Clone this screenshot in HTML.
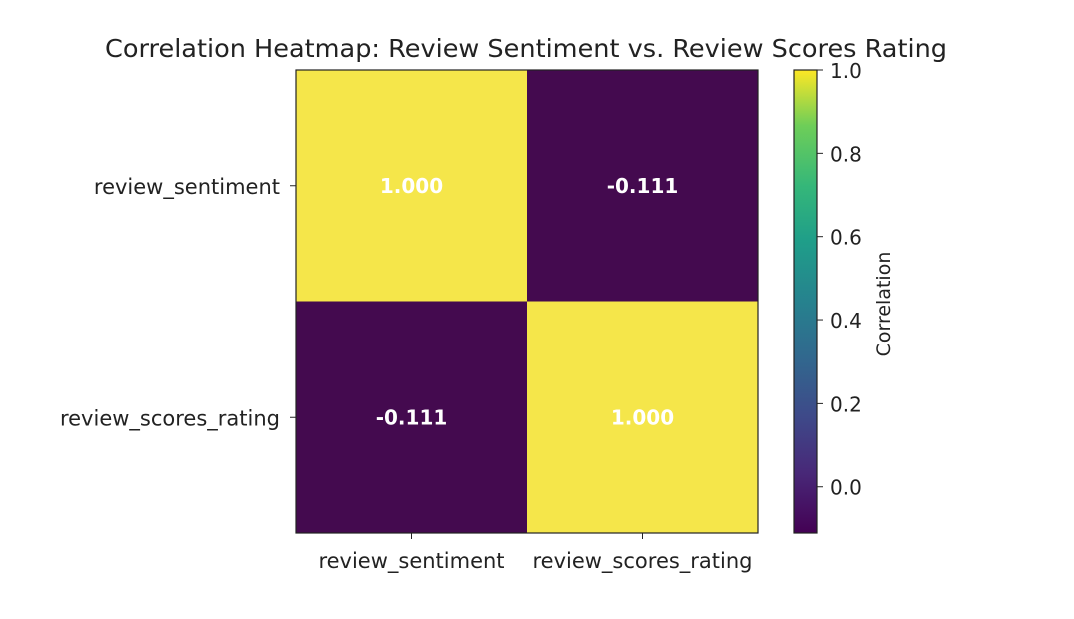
<!DOCTYPE html>
<html><head><meta charset="utf-8"><style>
body{margin:0;background:#fff;width:1074px;height:614px;overflow:hidden}
svg{font-family:"DejaVu Sans","Liberation Sans",sans-serif}
</style></head><body>
<svg id="chart" width="1074" height="614">
<defs><linearGradient id="vir" x1="0" y1="1" x2="0" y2="0">
<stop offset="0" stop-color="#440154"/><stop offset="0.13" stop-color="#482878"/><stop offset="0.25" stop-color="#3e4989"/><stop offset="0.38" stop-color="#31688e"/><stop offset="0.5" stop-color="#26828e"/><stop offset="0.63" stop-color="#1f9e89"/><stop offset="0.75" stop-color="#35b779"/><stop offset="0.88" stop-color="#6ece58"/><stop offset="1" stop-color="#fde725"/>
</linearGradient></defs>
<text x="526" y="57" text-anchor="middle" font-size="25" textLength="842" lengthAdjust="spacingAndGlyphs" fill="#222">Correlation Heatmap: Review Sentiment vs. Review Scores Rating</text>
<g id="cells"></g>
<rect x="296" y="70" width="462" height="463" fill="none" stroke="#222" stroke-width="1.2"/>
<g id="axes"></g>
<rect x="794" y="70" width="23" height="463" fill="url(#vir)" stroke="#222" stroke-width="1.2"/>
<g id="cbticks"></g>
<text transform="translate(890,304) rotate(-90)" text-anchor="middle" font-size="19" fill="#222">Correlation</text>
</svg>
<script>
const labels=["review_sentiment","review_scores_rating"];
const values=[[1.000,-0.111],[-0.111,1.000]];
const cbTicks=[0.0,0.2,0.4,0.6,0.8,1.0];
const vmin=-0.111,vmax=1.0;
const NS="http://www.w3.org/2000/svg";
const X0=296,Y0=70,W=462,H=463,cw=W/2,ch=H/2;
const cbTop=70,cbBot=533;
function cy(v){return cbBot-(v-vmin)/(vmax-vmin)*(cbBot-cbTop);}
function color(v){const t=(v-vmin)/(vmax-vmin);return t>0.5?"#f5e64a":"#440a4f";}
function mk(tag,a,p){const e=document.createElementNS(NS,tag);for(const k in a)e.setAttribute(k,a[k]);p.appendChild(e);return e;}
const cells=document.getElementById('cells'),axes=document.getElementById('axes'),cb=document.getElementById('cbticks');
values.forEach((row,i)=>row.forEach((v,j)=>{
 const r=mk('rect',{x:X0+j*cw,y:Y0+i*ch,width:cw,height:ch,fill:color(v)},cells);
 
 
 const t=mk('text',{x:X0+(j+0.5)*cw,y:Y0+(i+0.5)*ch+7,'text-anchor':'middle','font-size':20,'font-weight':'bold',fill:'#fff'},cells);
 t.textContent=v.toFixed(3);
 
 
}));
labels.forEach((l,i)=>{
 const y=Y0+(i+0.5)*ch;
 mk('line',{x1:X0-6,x2:X0,y1:y,y2:y,stroke:'#222'},axes);
 const t=mk('text',{x:X0-16,y:y+8,'text-anchor':'end','font-size':21,fill:'#222'},axes);
 t.textContent=l;
 
 
 const x=X0+(i+0.5)*cw;
 mk('line',{x1:x,x2:x,y1:Y0+H,y2:Y0+H+6,stroke:'#222'},axes);
 const t2=mk('text',{x:x,y:Y0+H+35,'text-anchor':'middle','font-size':21,fill:'#222'},axes);
 t2.textContent=l;
 
 
});
cbTicks.forEach(v=>{
 const y=cy(v);
 mk('line',{x1:817,x2:823,y1:y,y2:y,stroke:'#222'},cb);
 const t=mk('text',{x:830,y:y+8,'font-size':20,fill:'#222'},cb);
 t.textContent=v.toFixed(1);
 
 
});
</script>
</body></html>
